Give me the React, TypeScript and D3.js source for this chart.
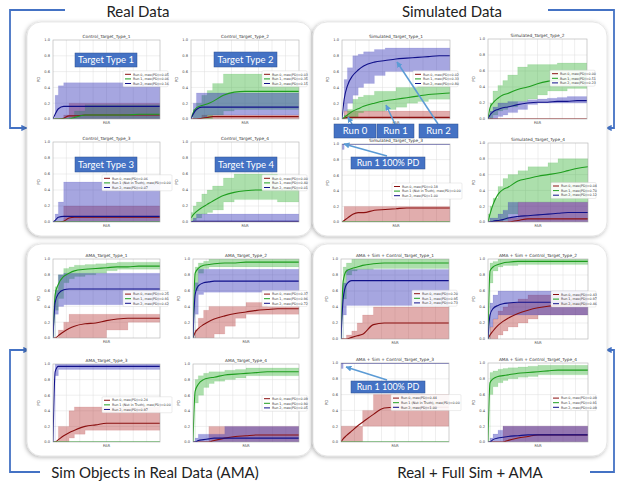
import React from 'react';
import * as d3 from 'd3';

// FAR sample grid shared by every panel (normalised 0..1)
const far = [0, 0.02, 0.05, 0.1, 0.15, 0.2, 0.3, 0.4, 0.5, 0.6, 0.7, 0.8, 0.9, 1];
const yTicks = [0, 0.2, 0.4, 0.6, 0.8, 1.0];

// ---- Real data (control) ----
const ctl1Mean = [
  [0, 0, 0, 0.01, 0.04, 0.04, 0.05, 0.05, 0.05, 0.05, 0.05, 0.05, 0.05, 0.05],
  [0, 0, 0, 0, 0, 0.02, 0.05, 0.05, 0.05, 0.05, 0.05, 0.06, 0.06, 0.06],
  [0, 0.06, 0.13, 0.16, 0.16, 0.16, 0.16, 0.16, 0.16, 0.16, 0.16, 0.16, 0.16, 0.16],
];
const ctl1Lo = [
  [0, 0, 0, 0, 0, 0, 0, 0, 0, 0, 0, 0, 0, 0],
  [0, 0, 0, 0, 0, 0, 0, 0, 0, 0, 0, 0, 0, 0],
  [0, 0, 0, 0, 0, 0, 0, 0, 0, 0, 0, 0, 0, 0],
];
const ctl1Hi = [
  [0, 0, 0, 0.05, 0.2, 0.2, 0.2, 0.2, 0.2, 0.2, 0.2, 0.2, 0.2, 0.2],
  [0, 0, 0, 0, 0.02, 0.1, 0.18, 0.18, 0.18, 0.18, 0.18, 0.18, 0.18, 0.18],
  [0, 0.3, 0.42, 0.46, 0.46, 0.46, 0.46, 0.46, 0.46, 0.46, 0.46, 0.46, 0.46, 0.46],
];

const ctl2Mean = [
  [0, 0, 0, 0.01, 0.02, 0.03, 0.03, 0.03, 0.03, 0.03, 0.03, 0.03, 0.03, 0.03],
  [0, 0.08, 0.14, 0.17, 0.19, 0.22, 0.3, 0.34, 0.35, 0.35, 0.35, 0.35, 0.35, 0.35],
  [0, 0.06, 0.12, 0.15, 0.15, 0.15, 0.15, 0.15, 0.15, 0.15, 0.15, 0.15, 0.15, 0.15],
];
const ctl2Lo = [
  [0, 0, 0, 0, 0, 0, 0, 0, 0, 0, 0, 0, 0, 0],
  [0, 0, 0, 0, 0, 0.05, 0.1, 0.12, 0.12, 0.12, 0.12, 0.12, 0.12, 0.12],
  [0, 0, 0, 0.02, 0.05, 0.05, 0.05, 0.05, 0.05, 0.05, 0.05, 0.05, 0.05, 0.05],
];
const ctl2Hi = [
  [0, 0, 0, 0.05, 0.05, 0.05, 0.05, 0.05, 0.05, 0.05, 0.05, 0.05, 0.05, 0.05],
  [0, 0.12, 0.2, 0.3, 0.36, 0.45, 0.57, 0.57, 0.57, 0.57, 0.57, 0.45, 0.45, 0.45],
  [0, 0.2, 0.33, 0.33, 0.33, 0.33, 0.33, 0.33, 0.33, 0.33, 0.33, 0.33, 0.33, 0.33],
];

const ctl3Mean = [
  [0, 0, 0, 0.01, 0.05, 0.06, 0.06, 0.06, 0.06, 0.06, 0.06, 0.06, 0.06, 0.06],
  [0, 0, 0, 0, 0, 0, 0, 0, 0, 0, 0, 0, 0, 0],
  [0, 0.02, 0.06, 0.07, 0.07, 0.07, 0.07, 0.07, 0.07, 0.07, 0.07, 0.07, 0.07, 0.07],
];
const ctl3Lo = [
  [0, 0, 0, 0, 0, 0, 0, 0, 0, 0, 0, 0, 0, 0],
  [0, 0, 0, 0, 0, 0, 0, 0, 0, 0, 0, 0, 0, 0],
  [0, 0, 0, 0, 0, 0, 0, 0, 0, 0, 0, 0, 0, 0],
];
const ctl3Hi = [
  [0, 0, 0, 0.2, 0.2, 0.2, 0.2, 0.2, 0.2, 0.2, 0.2, 0.2, 0.2, 0.2],
  [0, 0, 0, 0, 0, 0, 0, 0, 0, 0, 0, 0, 0, 0],
  [0, 0.1, 0.25, 0.5, 0.5, 0.5, 0.5, 0.5, 0.5, 0.5, 0.5, 0.5, 0.5, 0.5],
];

const ctl4Mean = [
  [0, 0, 0, 0, 0, 0, 0, 0, 0, 0, 0, 0, 0, 0],
  [0.05, 0.09, 0.13, 0.18, 0.22, 0.26, 0.33, 0.37, 0.39, 0.4, 0.4, 0.4, 0.4, 0.4],
  [0, 0.01, 0.01, 0.01, 0.01, 0.01, 0.01, 0.01, 0.01, 0.01, 0.01, 0.01, 0.01, 0.01],
];
const ctl4Lo = [
  [0, 0, 0, 0, 0, 0, 0, 0, 0, 0, 0, 0, 0, 0],
  [0, 0.02, 0.05, 0.1, 0.12, 0.15, 0.25, 0.28, 0.28, 0.28, 0.28, 0.25, 0.25, 0.25],
  [0, 0, 0, 0, 0, 0, 0, 0, 0, 0, 0, 0, 0, 0],
];
const ctl4Hi = [
  [0, 0, 0, 0, 0, 0, 0, 0, 0, 0, 0, 0, 0, 0],
  [0.12, 0.2, 0.25, 0.35, 0.4, 0.45, 0.55, 0.6, 0.6, 0.6, 0.6, 0.4, 0.4, 0.4],
  [0, 0.05, 0.1, 0.1, 0.1, 0.1, 0.1, 0.1, 0.1, 0.1, 0.1, 0.1, 0.1, 0.1],
];

// ---- Simulated data ----
const sim1Mean = [
  [0, 0.01, 0.02, 0.02, 0.02, 0.02, 0.02, 0.02, 0.02, 0.02, 0.02, 0.02, 0.02, 0.02],
  [0, 0.02, 0.05, 0.1, 0.13, 0.16, 0.2, 0.23, 0.25, 0.27, 0.29, 0.31, 0.32, 0.33],
  [0, 0.25, 0.42, 0.55, 0.62, 0.67, 0.72, 0.74, 0.76, 0.77, 0.78, 0.79, 0.8, 0.8],
];
const sim1Lo = [
  [0, 0, 0, 0, 0, 0, 0, 0, 0, 0, 0, 0, 0, 0],
  [0, 0, 0, 0.02, 0.08, 0.1, 0.1, 0.12, 0.15, 0.2, 0.22, 0.25, 0.25, 0.25],
  [0, 0.1, 0.2, 0.3, 0.4, 0.45, 0.55, 0.6, 0.6, 0.6, 0.6, 0.6, 0.6, 0.6],
];
const sim1Hi = [
  [0, 0.1, 0.1, 0.1, 0.1, 0.1, 0.1, 0.1, 0.1, 0.1, 0.1, 0.1, 0.1, 0.1],
  [0, 0.05, 0.12, 0.25, 0.28, 0.3, 0.35, 0.35, 0.4, 0.4, 0.42, 0.45, 0.45, 0.45],
  [0, 0.5, 0.65, 0.8, 0.82, 0.85, 0.88, 0.9, 0.9, 0.9, 0.9, 0.9, 0.9, 0.9],
];

const sim2Mean = [
  [0, 0, 0, 0, 0, 0, 0, 0, 0, 0, 0, 0, 0, 0],
  [0, 0.14, 0.2, 0.26, 0.3, 0.32, 0.37, 0.4, 0.44, 0.47, 0.49, 0.5, 0.51, 0.52],
  [0, 0.05, 0.09, 0.12, 0.14, 0.15, 0.18, 0.2, 0.21, 0.21, 0.22, 0.22, 0.23, 0.23],
];
const sim2Lo = [
  [0, 0, 0, 0, 0, 0, 0, 0, 0, 0, 0, 0, 0, 0],
  [0, 0, 0.05, 0.1, 0.12, 0.15, 0.22, 0.25, 0.3, 0.35, 0.35, 0.38, 0.38, 0.38],
  [0, 0, 0, 0.03, 0.05, 0.08, 0.12, 0.18, 0.2, 0.2, 0.2, 0.2, 0.2, 0.2],
];
const sim2Hi = [
  [0, 0, 0, 0, 0, 0, 0, 0, 0, 0, 0, 0, 0, 0],
  [0.05, 0.2, 0.35, 0.42, 0.48, 0.55, 0.65, 0.68, 0.68, 0.68, 0.7, 0.7, 0.7, 0.7],
  [0, 0.1, 0.15, 0.2, 0.2, 0.22, 0.22, 0.24, 0.25, 0.26, 0.27, 0.28, 0.28, 0.28],
];

const sim3Mean = [
  [0, 0.02, 0.05, 0.1, 0.12, 0.12, 0.15, 0.16, 0.17, 0.18, 0.18, 0.18, 0.18, 0.18],
  [0, 0, 0, 0, 0, 0, 0, 0, 0, 0, 0, 0, 0, 0],
  [1, 1, 1, 1, 1, 1, 1, 1, 1, 1, 1, 1, 1, 1],
];
const sim3Lo = [
  [0, 0, 0, 0, 0, 0, 0, 0, 0, 0, 0, 0, 0, 0],
  [0, 0, 0, 0, 0, 0, 0, 0, 0, 0, 0, 0, 0, 0],
  [0.93, 1, 1, 1, 1, 1, 1, 1, 1, 1, 1, 1, 1, 1],
];
const sim3Hi = [
  [0, 0.2, 0.2, 0.2, 0.2, 0.2, 0.2, 0.2, 0.2, 0.2, 0.2, 0.2, 0.2, 0.2],
  [0, 0, 0, 0, 0, 0, 0, 0, 0, 0, 0, 0, 0, 0],
  [1, 1, 1, 1, 1, 1, 1, 1, 1, 1, 1, 1, 1, 1],
];

const sim4Mean = [
  [0, 0, 0, 0, 0, 0, 0.02, 0.04, 0.04, 0.04, 0.04, 0.04, 0.04, 0.04],
  [0, 0.1, 0.22, 0.35, 0.41, 0.44, 0.52, 0.55, 0.58, 0.6, 0.62, 0.65, 0.68, 0.7],
  [0, 0, 0.01, 0.02, 0.03, 0.05, 0.07, 0.08, 0.09, 0.1, 0.11, 0.12, 0.12, 0.12],
];
const sim4Lo = [
  [0, 0, 0, 0, 0, 0, 0, 0, 0, 0, 0, 0, 0, 0],
  [0, 0, 0, 0, 0.02, 0.1, 0.25, 0.25, 0.25, 0.25, 0.25, 0.25, 0.25, 0.25],
  [0, 0, 0, 0, 0, 0, 0, 0, 0, 0, 0, 0, 0, 0],
];
const sim4Hi = [
  [0, 0, 0, 0, 0, 0.05, 0.25, 0.25, 0.25, 0.25, 0.25, 0.25, 0.25, 0.25],
  [0.1, 0.2, 0.3, 0.45, 0.55, 0.6, 0.65, 0.7, 0.7, 0.75, 0.8, 0.8, 0.8, 0.8],
  [0, 0.05, 0.05, 0.1, 0.15, 0.25, 0.25, 0.25, 0.25, 0.25, 0.25, 0.25, 0.25, 0.25],
];

// ---- AMA ----
const ama1Mean = [
  [0, 0, 0.03, 0.08, 0.12, 0.15, 0.18, 0.19, 0.22, 0.24, 0.25, 0.25, 0.25, 0.25],
  [0, 0.55, 0.68, 0.78, 0.82, 0.85, 0.87, 0.88, 0.89, 0.9, 0.9, 0.91, 0.91, 0.91],
  [0, 0.45, 0.56, 0.61, 0.62, 0.62, 0.62, 0.62, 0.62, 0.62, 0.62, 0.62, 0.62, 0.62],
];
const ama1Lo = [
  [0, 0, 0, 0, 0, 0, 0, 0, 0.1, 0.1, 0.2, 0.2, 0.2, 0.2],
  [0, 0.35, 0.5, 0.7, 0.75, 0.78, 0.8, 0.82, 0.85, 0.87, 0.87, 0.87, 0.87, 0.87],
  [0, 0.3, 0.4, 0.42, 0.42, 0.42, 0.42, 0.42, 0.42, 0.42, 0.42, 0.42, 0.42, 0.42],
];
const ama1Hi = [
  [0, 0, 0.1, 0.2, 0.3, 0.3, 0.3, 0.3, 0.3, 0.3, 0.3, 0.3, 0.3, 0.3],
  [0, 0.65, 0.8, 0.88, 0.9, 0.92, 0.93, 0.94, 0.95, 0.96, 0.96, 0.96, 0.96, 0.96],
  [0, 0.6, 0.8, 0.82, 0.82, 0.82, 0.82, 0.82, 0.82, 0.82, 0.82, 0.82, 0.82, 0.82],
];

const ama2Mean = [
  [0, 0.07, 0.12, 0.17, 0.21, 0.24, 0.28, 0.31, 0.33, 0.35, 0.36, 0.37, 0.37, 0.37],
  [0, 0.82, 0.88, 0.92, 0.93, 0.94, 0.95, 0.95, 0.96, 0.96, 0.96, 0.96, 0.96, 0.96],
  [0, 0.55, 0.66, 0.7, 0.71, 0.72, 0.72, 0.72, 0.72, 0.72, 0.72, 0.72, 0.72, 0.72],
];
const ama2Lo = [
  [0, 0, 0, 0, 0, 0.05, 0.15, 0.25, 0.3, 0.3, 0.3, 0.3, 0.3, 0.3],
  [0, 0.6, 0.82, 0.88, 0.9, 0.9, 0.9, 0.9, 0.9, 0.9, 0.9, 0.9, 0.9, 0.9],
  [0, 0.3, 0.55, 0.58, 0.58, 0.58, 0.58, 0.58, 0.58, 0.58, 0.58, 0.58, 0.58, 0.58],
];
const ama2Hi = [
  [0, 0.1, 0.25, 0.35, 0.4, 0.4, 0.4, 0.4, 0.45, 0.45, 0.4, 0.4, 0.4, 0.4],
  [0, 0.9, 0.95, 0.97, 1, 1, 1, 1, 1, 1, 1, 1, 1, 1],
  [0, 0.7, 0.87, 0.87, 0.87, 0.87, 0.87, 0.87, 0.87, 0.87, 0.87, 0.87, 0.87, 0.87],
];

const ama3Mean = [
  [0, 0, 0.03, 0.08, 0.12, 0.15, 0.2, 0.22, 0.24, 0.24, 0.24, 0.24, 0.24, 0.24],
  [0, 0, 0, 0, 0, 0, 0, 0, 0, 0, 0, 0, 0, 0],
  [0, 0.9, 0.97, 0.97, 0.97, 0.97, 0.97, 0.97, 0.97, 0.97, 0.97, 0.97, 0.97, 0.97],
];
const ama3Lo = [
  [0, 0, 0, 0, 0.05, 0.1, 0.15, 0.15, 0.15, 0.15, 0.15, 0.15, 0.15, 0.15],
  [0, 0, 0, 0, 0, 0, 0, 0, 0, 0, 0, 0, 0, 0],
  [0, 0.85, 0.93, 0.93, 0.93, 0.93, 0.93, 0.93, 0.93, 0.93, 0.93, 0.93, 0.93, 0.93],
];
const ama3Hi = [
  [0, 0, 0.2, 0.2, 0.4, 0.45, 0.45, 0.45, 0.45, 0.45, 0.45, 0.45, 0.45, 0.45],
  [0, 0, 0, 0, 0, 0, 0, 0, 0, 0, 0, 0, 0, 0],
  [0, 1, 1, 1, 1, 1, 1, 1, 1, 1, 1, 1, 1, 1],
];

const ama4Mean = [
  [0, 0, 0, 0, 0, 0.02, 0.05, 0.07, 0.08, 0.09, 0.09, 0.09, 0.09, 0.09],
  [0, 0.65, 0.74, 0.8, 0.82, 0.83, 0.86, 0.87, 0.88, 0.89, 0.9, 0.9, 0.9, 0.9],
  [0, 0, 0.02, 0.03, 0.04, 0.05, 0.05, 0.05, 0.05, 0.05, 0.05, 0.05, 0.05, 0.05],
];
const ama4Lo = [
  [0, 0, 0, 0, 0, 0, 0, 0, 0, 0, 0, 0, 0, 0],
  [0, 0.5, 0.6, 0.7, 0.75, 0.78, 0.8, 0.82, 0.85, 0.85, 0.85, 0.85, 0.85, 0.85],
  [0, 0, 0, 0, 0, 0, 0, 0, 0, 0, 0, 0, 0, 0],
];
const ama4Hi = [
  [0, 0, 0, 0, 0.2, 0.2, 0.2, 0.2, 0.2, 0.2, 0.2, 0.2, 0.2, 0.2],
  [0, 0.8, 0.85, 0.88, 0.9, 0.9, 0.92, 0.93, 0.95, 0.95, 0.95, 0.95, 0.95, 0.95],
  [0, 0.05, 0.1, 0.1, 0.1, 0.1, 0.2, 0.2, 0.2, 0.2, 0.2, 0.2, 0.2, 0.2],
];

// ---- Real + Full Sim + AMA ----
const all1Mean = [
  [0, 0, 0, 0.02, 0.04, 0.06, 0.18, 0.2, 0.2, 0.2, 0.2, 0.2, 0.2, 0.2],
  [0, 0.72, 0.85, 0.88, 0.9, 0.92, 0.94, 0.95, 0.95, 0.95, 0.95, 0.95, 0.95, 0.95],
  [0, 0.5, 0.68, 0.73, 0.73, 0.73, 0.73, 0.73, 0.73, 0.73, 0.73, 0.73, 0.73, 0.73],
];
const all1Lo = [
  [0, 0, 0, 0, 0, 0, 0, 0, 0, 0, 0, 0, 0, 0],
  [0, 0.5, 0.8, 0.85, 0.87, 0.87, 0.88, 0.88, 0.88, 0.88, 0.88, 0.88, 0.88, 0.88],
  [0, 0.3, 0.42, 0.42, 0.42, 0.42, 0.42, 0.42, 0.42, 0.42, 0.42, 0.42, 0.42, 0.42],
];
const all1Hi = [
  [0, 0, 0.05, 0.1, 0.2, 0.3, 0.4, 0.4, 0.4, 0.4, 0.4, 0.4, 0.4, 0.4],
  [0, 0.9, 0.95, 1, 1, 1, 1, 1, 1, 1, 1, 1, 1, 1],
  [0, 0.7, 0.87, 0.87, 0.87, 0.87, 0.87, 0.87, 0.87, 0.87, 0.87, 0.87, 0.87, 0.87],
];

const all2Mean = [
  [0, 0.05, 0.1, 0.17, 0.22, 0.26, 0.32, 0.36, 0.39, 0.41, 0.42, 0.43, 0.43, 0.43],
  [0, 0.85, 0.9, 0.93, 0.95, 0.96, 0.97, 0.97, 0.97, 0.97, 0.97, 0.97, 0.97, 0.97],
  [0, 0.3, 0.38, 0.42, 0.44, 0.45, 0.46, 0.46, 0.46, 0.46, 0.46, 0.46, 0.46, 0.46],
];
const all2Lo = [
  [0, 0, 0, 0.05, 0.1, 0.15, 0.2, 0.25, 0.3, 0.3, 0.3, 0.3, 0.3, 0.3],
  [0, 0.7, 0.85, 0.9, 0.92, 0.92, 0.93, 0.93, 0.93, 0.93, 0.93, 0.93, 0.93, 0.93],
  [0, 0.15, 0.25, 0.3, 0.3, 0.3, 0.3, 0.3, 0.3, 0.3, 0.3, 0.3, 0.3, 0.3],
];
const all2Hi = [
  [0, 0.15, 0.25, 0.35, 0.4, 0.45, 0.5, 0.55, 0.55, 0.55, 0.55, 0.55, 0.55, 0.55],
  [0, 0.95, 0.97, 1, 1, 1, 1, 1, 1, 1, 1, 1, 1, 1],
  [0, 0.45, 0.55, 0.6, 0.6, 0.6, 0.6, 0.6, 0.6, 0.6, 0.6, 0.6, 0.6, 0.6],
];

const all3Mean = [
  [0, 0.04, 0.08, 0.14, 0.2, 0.25, 0.35, 0.43, 0.44, 0.44, 0.44, 0.44, 0.44, 0.44],
  [0, 0, 0, 0, 0, 0, 0, 0, 0, 0, 0, 0, 0, 0],
  [1, 1, 1, 1, 1, 1, 1, 1, 1, 1, 1, 1, 1, 1],
];
const all3Lo = [
  [0, 0, 0, 0, 0, 0.2, 0.2, 0.2, 0.2, 0.2, 0.2, 0.2, 0.2, 0.2],
  [0, 0, 0, 0, 0, 0, 0, 0, 0, 0, 0, 0, 0, 0],
  [0.93, 1, 1, 1, 1, 1, 1, 1, 1, 1, 1, 1, 1, 1],
];
const all3Hi = [
  [0.2, 0.2, 0.2, 0.2, 0.2, 0.4, 0.6, 0.6, 0.6, 0.6, 0.6, 0.6, 0.6, 0.6],
  [0, 0, 0, 0, 0, 0, 0, 0, 0, 0, 0, 0, 0, 0],
  [1, 1, 1, 1, 1, 1, 1, 1, 1, 1, 1, 1, 1, 1],
];

const all4Mean = [
  [0, 0, 0, 0, 0, 0.02, 0.05, 0.07, 0.09, 0.09, 0.09, 0.09, 0.09, 0.09],
  [0, 0.75, 0.8, 0.83, 0.84, 0.85, 0.87, 0.88, 0.89, 0.9, 0.91, 0.91, 0.91, 0.91],
  [0, 0, 0.03, 0.05, 0.06, 0.07, 0.08, 0.09, 0.09, 0.09, 0.09, 0.09, 0.09, 0.09],
];
const all4Lo = [
  [0, 0, 0, 0, 0, 0, 0, 0, 0, 0, 0, 0, 0, 0],
  [0, 0.6, 0.7, 0.75, 0.78, 0.8, 0.82, 0.83, 0.85, 0.85, 0.85, 0.85, 0.85, 0.85],
  [0, 0, 0, 0, 0, 0, 0, 0, 0, 0, 0, 0, 0, 0],
];
const all4Hi = [
  [0, 0, 0, 0, 0.2, 0.2, 0.2, 0.2, 0.2, 0.2, 0.2, 0.2, 0.2, 0.2],
  [0, 0.88, 0.9, 0.92, 0.93, 0.94, 0.95, 0.96, 0.97, 0.97, 0.97, 0.97, 0.97, 0.97],
  [0, 0.05, 0.1, 0.15, 0.2, 0.2, 0.2, 0.2, 0.2, 0.2, 0.2, 0.2, 0.2, 0.2],
];

const titles = [
  'Control_Target_Type_1', 'Control_Target_Type_2', 'Control_Target_Type_3', 'Control_Target_Type_4',
  'Simulated_Target_Type_1', 'Simulated_Target_Type_2', 'Simulated_Target_Type_3', 'Simulated_Target_Type_4',
  'AMA_Target_Type_1', 'AMA_Target_Type_2', 'AMA_Target_Type_3', 'AMA_Target_Type_4',
  'AMA + Sim + Control_Target_Type_1', 'AMA + Sim + Control_Target_Type_2',
  'AMA + Sim + Control_Target_Type_3', 'AMA + Sim + Control_Target_Type_4',
];

const legends = [
  ['Run 0, max(PD)=0.05', 'Run 1, max(PD)=0.06', 'Run 2, max(PD)=0.16'],
  ['Run 0, max(PD)=0.03', 'Run 1, max(PD)=0.35', 'Run 2, max(PD)=0.15'],
  ['Run 0, max(PD)=0.06', 'Run 1 (Not in Truth), max(PD)=0.00', 'Run 2, max(PD)=0.07'],
  ['Run 0, max(PD)=0.00', 'Run 1, max(PD)=0.40', 'Run 2, max(PD)=0.01'],
  ['Run 0, max(PD)=0.02', 'Run 1, max(PD)=0.33', 'Run 2, max(PD)=0.80'],
  ['Run 0, max(PD)=0.00', 'Run 1, max(PD)=0.51', 'Run 2, max(PD)=0.23'],
  ['Run 0, max(PD)=0.18', 'Run 1 (Not in Truth), max(PD)=0.00', 'Run 2, max(PD)=1.00'],
  ['Run 0, max(PD)=0.04', 'Run 1, max(PD)=0.70', 'Run 2, max(PD)=0.12'],
  ['Run 0, max(PD)=0.25', 'Run 1, max(PD)=0.91', 'Run 2, max(PD)=0.62'],
  ['Run 0, max(PD)=0.37', 'Run 1, max(PD)=0.96', 'Run 2, max(PD)=0.72'],
  ['Run 0, max(PD)=0.24', 'Run 1 (Not in Truth), max(PD)=0.00', 'Run 2, max(PD)=0.97'],
  ['Run 0, max(PD)=0.09', 'Run 1, max(PD)=0.90', 'Run 2, max(PD)=0.05'],
  ['Run 0, max(PD)=0.20', 'Run 1, max(PD)=0.95', 'Run 2, max(PD)=0.73'],
  ['Run 0, max(PD)=0.43', 'Run 1, max(PD)=0.97', 'Run 2, max(PD)=0.46'],
  ['Run 0, max(PD)=0.44', 'Run 1 (Not in Truth), max(PD)=0.00', 'Run 2, max(PD)=1.00'],
  ['Run 0, max(PD)=0.09', 'Run 1, max(PD)=0.91', 'Run 2, max(PD)=0.09'],
];

const means = [ctl1Mean, ctl2Mean, ctl3Mean, ctl4Mean, sim1Mean, sim2Mean, sim3Mean, sim4Mean,
  ama1Mean, ama2Mean, ama3Mean, ama4Mean, all1Mean, all2Mean, all3Mean, all4Mean];
const lows = [ctl1Lo, ctl2Lo, ctl3Lo, ctl4Lo, sim1Lo, sim2Lo, sim3Lo, sim4Lo,
  ama1Lo, ama2Lo, ama3Lo, ama4Lo, all1Lo, all2Lo, all3Lo, all4Lo];
const highs = [ctl1Hi, ctl2Hi, ctl3Hi, ctl4Hi, sim1Hi, sim2Hi, sim3Hi, sim4Hi,
  ama1Hi, ama2Hi, ama3Hi, ama4Hi, all1Hi, all2Hi, all3Hi, all4Hi];

// layout: plot area [left, right, top, bottom] and legend top as fraction of height
const boxes = [
  [53, 160, 40, 119], [191, 299, 40, 119], [53, 160, 142, 222], [191, 299, 142, 222],
  [342, 450, 40, 119], [488, 587, 39, 119], [342, 450, 144, 222], [488, 588, 143, 222],
  [53, 160, 259, 338], [193, 299, 259, 338], [53, 160, 364, 442], [193, 299, 364, 442],
  [341, 449, 259, 339], [488, 588, 259, 339], [341, 449, 363, 442], [488, 588, 363, 442],
];
const legendFrac = [0.39, 0.39, 0.41, 0.41, 0.39, 0.39, 0.5, 0.5, 0.4, 0.4, 0.42, 0.4, 0.39, 0.4, 0.4, 0.4];

const lineColors = ['#8b1010', '#1e9e1e', '#10108a'];
const bandColors = ['#b02828', '#30b030', '#2a2ab4'];
const bandOpacity = [0.38, 0.4, 0.42];
const fontSmall = 'DejaVu Sans, sans-serif';
const fontBig = 'Lato, Open Sans, sans-serif';
const labelBlue = '#4472c4';
const arrowBlue = '#5b9bd5';

const idx = far.map((_, i) => i);

function MiniChart({ k }: { k: number }) {
  const [x0, x1, y0, y1] = boxes[k];
  const x = d3.scaleLinear().domain([0, 1]).range([x0, x1]);
  const y = d3.scaleLinear().domain([0, 1]).range([y1, y0]);
  const long = legends[k].some(s => s.includes('Not in Truth'));
  const lw = long ? 70 : 45;
  const lx = x1 - (long ? 58 : 37);
  const ly = y0 + (y1 - y0) * legendFrac[k];
  const clip = 'clip' + k;

  return (
    <g>
      <defs>
        <clipPath id={clip}>
          <rect x={x0} y={y0} width={x1 - x0} height={y1 - y0} />
        </clipPath>
      </defs>
      <rect x={x0} y={y0} width={x1 - x0} height={y1 - y0} fill="#fff" />
      {d3.range(1, 8).map(i => (
        <line key={'v' + i} x1={x(i / 8)} x2={x(i / 8)} y1={y0} y2={y1} stroke="#dedede" strokeWidth={0.5} />
      ))}
      {yTicks.slice(1, -1).map(t => (
        <line key={'h' + t} x1={x0} x2={x1} y1={y(t)} y2={y(t)} stroke="#dedede" strokeWidth={0.5} />
      ))}
      <g clipPath={`url(#${clip})`}>
        {[0, 1, 2].map(r => {
          const area = d3.area<number>()
            .x(i => x(far[i]))
            .y0(i => y(lows[k][r][i]))
            .y1(i => y(highs[k][r][i]))
            .curve(d3.curveStepAfter);
          return <path key={'a' + r} d={area(idx) || ''} fill={bandColors[r]} fillOpacity={bandOpacity[r]}
            stroke={bandColors[r]} strokeOpacity={0.3} strokeWidth={0.3} />;
        })}
        {[0, 1, 2].map(r => {
          const line = d3.line<number>()
            .x(i => x(far[i]))
            .y(i => y(means[k][r][i]))
            .curve(d3.curveMonotoneX);
          return <path key={'l' + r} d={line(idx) || ''} fill="none" stroke={lineColors[r]} strokeWidth={1.1} />;
        })}
      </g>
      <rect x={x0} y={y0} width={x1 - x0} height={y1 - y0} fill="none" stroke="#b0b0b0" strokeWidth={0.6} />
      {yTicks.map(t => (
        <text key={'t' + t} x={x0 - 3} y={y(t) + 1.3} fontSize={3.6} textAnchor="end" fill="#444"
          fontFamily={fontSmall}>{t.toFixed(1)}</text>
      ))}
      <text x={(x0 + x1) / 2} y={y0 - 2} fontSize={4.3} textAnchor="middle" fill="#333" fontFamily={fontSmall}>
        {titles[k]}
      </text>
      <text transform={`translate(${x0 - 13},${(y0 + y1) / 2}) rotate(-90)`} fontSize={4} textAnchor="middle"
        fill="#444" fontFamily={fontSmall}>PD</text>
      <text x={(x0 + x1) / 2} y={y1 + 5} fontSize={3.8} textAnchor="middle" fill="#444" fontFamily={fontSmall}>FAR</text>
      <g>
        <rect x={lx} y={ly} width={lw} height={16} rx={1} fill="#fff" fillOpacity={0.9} stroke="#cfcfcf" strokeWidth={0.4} />
        {legends[k].map((s, r) => (
          <g key={'lg' + r}>
            <line x1={lx + 2} x2={lx + 8} y1={ly + 3.5 + r * 4.6} y2={ly + 3.5 + r * 4.6} stroke={lineColors[r]} strokeWidth={1} />
            <text x={lx + 10} y={ly + 4.7 + r * 4.6} fontSize={3.3} fill="#333" fontFamily={fontSmall}>{s}</text>
          </g>
        ))}
      </g>
    </g>
  );
}

function Label({ x, y, w, h, text, size }: { x: number; y: number; w: number; h: number; text: string; size: number }) {
  return (
    <g>
      <rect x={x} y={y} width={w} height={h} fill={labelBlue} stroke="#2f528f" strokeWidth={0.5} />
      <text x={x + w / 2} y={y + h / 2 + size * 0.36} fontSize={size} textAnchor="middle" fill="#fff"
        fontFamily={fontBig}>{text}</text>
    </g>
  );
}

const panels = [
  [27, 22, 285, 214], [313, 22, 294, 214], [27, 244, 285, 212], [313, 244, 294, 212],
];

export default function App() {
  return (
    <svg width={620} height={484} style={{ position: 'absolute', left: 0, top: 0, background: '#fff' }}>
      <defs>
        <filter id="sh" x="-5%" y="-5%" width="110%" height="110%">
          <feDropShadow dx={-1} dy={1} stdDeviation={2} floodColor="#000" floodOpacity={0.3} />
        </filter>
        <marker id="ah" viewBox="0 0 10 10" refX={9} refY={5} markerWidth={4} markerHeight={4} orient="auto">
          <path d="M0,0 L10,5 L0,10 z" fill={arrowBlue} />
        </marker>
        <marker id="ahd" viewBox="0 0 10 10" refX={9} refY={5} markerWidth={3.5} markerHeight={3.5} orient="auto">
          <path d="M0,0 L10,5 L0,10 z" fill={labelBlue} />
        </marker>
      </defs>

      {/* connectors */}
      <g fill="none" stroke={labelBlue} strokeWidth={1.8}>
        <path d="M65,10 L10,10 L10,128 L27,128" markerEnd="url(#ahd)" />
        <path d="M548,10 L614,10 L614,128 L606,128" markerEnd="url(#ahd)" />
        <path d="M40,472 L10,472 L10,350 L29,350" markerEnd="url(#ahd)" />
        <path d="M590,472 L614,472 L614,350 L606,350" markerEnd="url(#ahd)" />
      </g>

      {panels.map((p, i) => (
        <rect key={i} x={p[0]} y={p[1]} width={p[2]} height={p[3]} rx={14} fill="#fff" stroke="#d8d8d8"
          strokeWidth={0.6} filter="url(#sh)" />
      ))}

      {d3.range(16).map(k => <MiniChart key={k} k={k} />)}

      {/* annotations */}
      <Label x={75} y={53} w={62} h={14} text="Target Type 1" size={9.5} />
      <Label x={214} y={52} w={63} h={15} text="Target Type 2" size={9.5} />
      <Label x={75} y={157} w={62} h={15} text="Target Type 3" size={9.5} />
      <Label x={215} y={157} w={62} h={15} text="Target Type 4" size={9.5} />

      <g stroke={arrowBlue} strokeWidth={1.5} fill="none">
        <line x1={352} y1={124} x2={348} y2={117} markerEnd="url(#ah)" />
        <line x1={395} y1={124} x2={386} y2={105} markerEnd="url(#ah)" />
        <line x1={438} y1={124} x2={397} y2={62} markerEnd="url(#ah)" />
        <line x1={387} y1={156} x2={344} y2={144} markerEnd="url(#ah)" />
        <line x1={387} y1={380} x2={346} y2={367} markerEnd="url(#ah)" />
      </g>
      <Label x={334} y={124} w={42} h={14} text="Run 0" size={9.5} />
      <Label x={377} y={124} w={37} h={14} text="Run 1" size={9.5} />
      <Label x={419} y={124} w={39} h={14} text="Run 2" size={9.5} />
      <Label x={351} y={157} w={74} h={12} text="Run 1 100% PD" size={9} />
      <Label x={351} y={381} w={74} h={12} text="Run 1 100% PD" size={9} />

      <g fontFamily={fontBig} fontSize={15} fill="#222" textAnchor="middle">
        <text x={138} y={17}>Real Data</text>
        <text x={452} y={17}>Simulated Data</text>
        <text x={155} y={478}>Sim Objects in Real Data (AMA)</text>
        <text x={470} y={478}>Real + Full Sim + AMA</text>
      </g>
    </svg>
  );
}
